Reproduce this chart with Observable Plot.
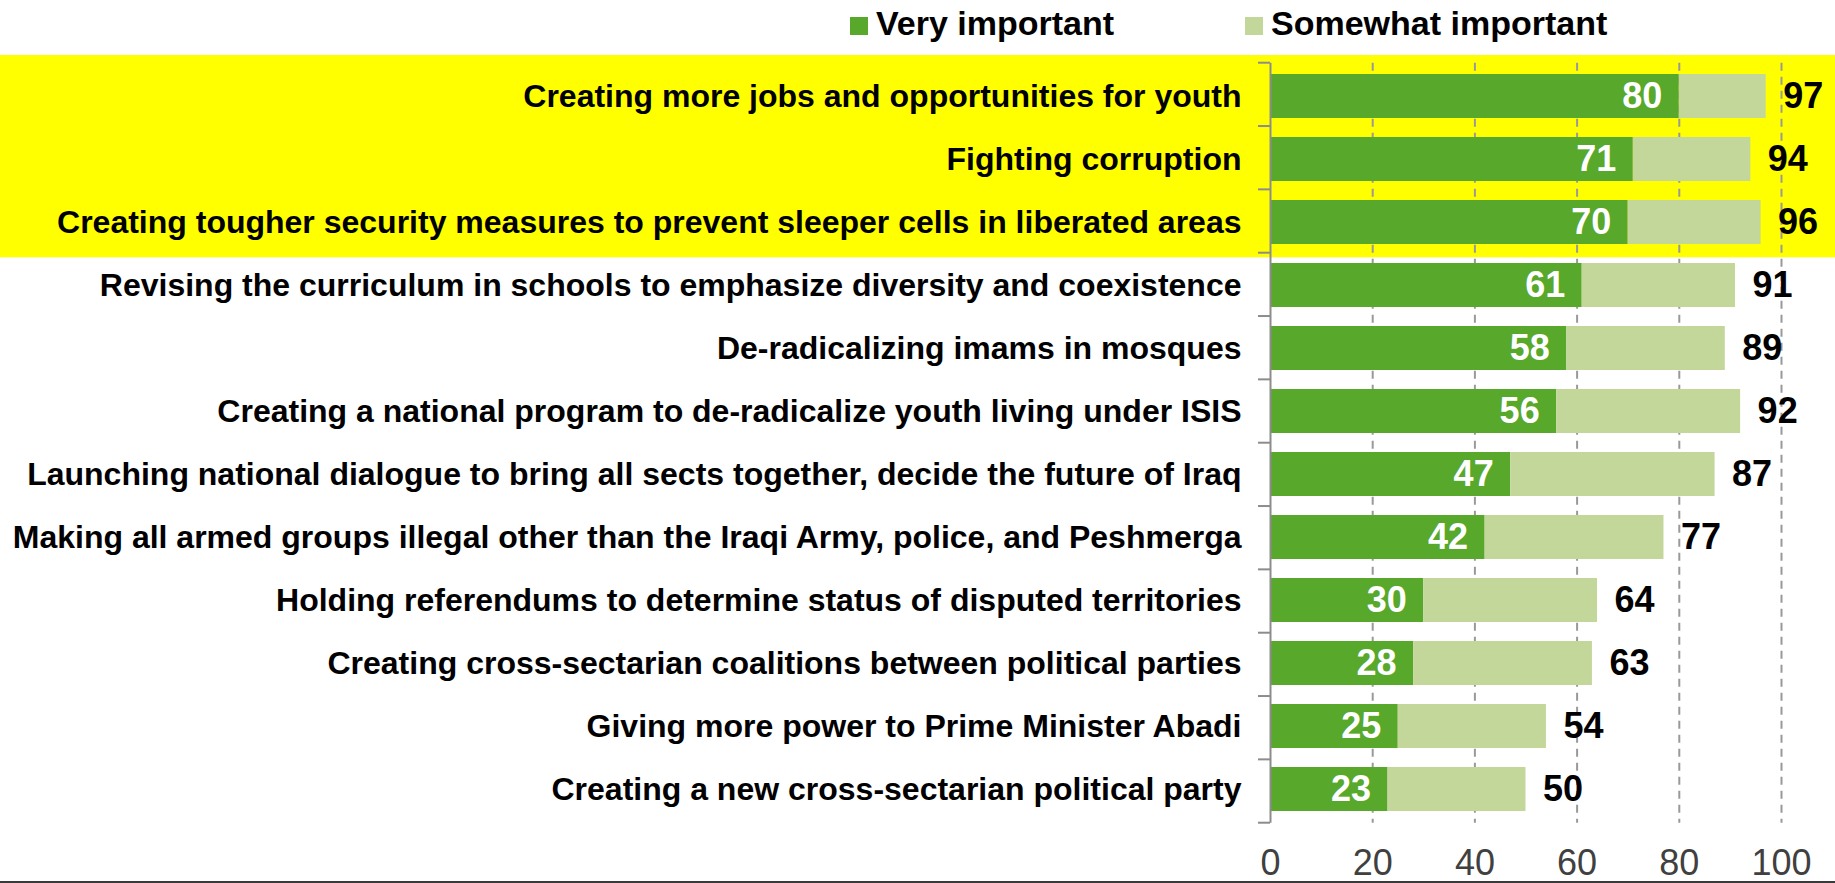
<!DOCTYPE html>
<html><head><meta charset="utf-8">
<script src="https://cdn.jsdelivr.net/npm/d3@7"></script>
<script src="https://cdn.jsdelivr.net/npm/@observablehq/plot@0.6"></script>
<style>
html,body{margin:0;padding:0;background:#fff;width:1835px;height:883px;overflow:hidden;font-family:"Liberation Sans",Arial,sans-serif;}
#legend{position:relative;height:55px;}
.sw{position:absolute;top:17px;width:18px;height:18px;}
.lt{position:absolute;top:6px;font-size:34px;font-weight:bold;line-height:34px;color:#000;white-space:nowrap;}
#chart{position:relative;height:828px;}
#chart svg{display:block;}
#border{position:absolute;left:0;top:881px;width:1835px;height:2px;background:#3a3a3a;}
</style></head>
<body>
<div id="legend"></div>
<div id="chart"></div>
<div id="border"></div>
<script>
const categories = [
  "Creating more jobs and opportunities for youth",
  "Fighting corruption",
  "Creating tougher security measures to prevent sleeper cells in liberated areas",
  "Revising the curriculum in schools to emphasize diversity and coexistence",
  "De-radicalizing imams in mosques",
  "Creating a national program to de-radicalize youth living under ISIS",
  "Launching national dialogue to bring all sects together, decide the future of Iraq",
  "Making all armed groups illegal other than the Iraqi Army, police, and Peshmerga",
  "Holding referendums to determine status of disputed territories",
  "Creating cross-sectarian coalitions between political parties",
  "Giving more power to Prime Minister Abadi",
  "Creating a new cross-sectarian political party"
];
const veryImportant = [80, 71, 70, 61, 58, 56, 47, 42, 30, 28, 25, 23];
const totalImportant = [97, 94, 96, 91, 89, 92, 87, 77, 64, 63, 54, 50];
const seriesNames = ["Very important", "Somewhat important"];
const seriesColors = ["#57a82b", "#c4d79b"];
const xTicks = [0, 20, 40, 60, 80, 100];
const highlighted = categories.slice(0, 3);

const rows = categories.map((c, i) => ({category: c, very: veryImportant[i], total: totalImportant[i]}));

// legend (HTML, above the SVG)
const legend = document.getElementById("legend");
const legendPos = [{sq: 850, tx: 876}, {sq: 1245, tx: 1271}];
seriesNames.forEach((name, i) => {
  const s = document.createElement("div");
  s.className = "sw"; s.style.left = legendPos[i].sq + "px"; s.style.background = seriesColors[i];
  legend.appendChild(s);
  const t = document.createElement("div");
  t.className = "lt"; t.style.left = legendPos[i].tx + "px"; t.textContent = name;
  legend.appendChild(t);
});

function highlightBand(index, scales, values, dims) {
  const n = categories.length;
  const top = dims.marginTop, bottom = dims.height - dims.marginBottom;
  const step = (bottom - top) / n;
  const i0 = categories.indexOf(highlighted[0]);
  const i1 = categories.indexOf(highlighted[highlighted.length - 1]);
  const y0 = top + i0 * step - 7.7, y1 = top + (i1 + 1) * step + 4.6;
  return d3.create("svg:rect").attr("x", 0).attr("y", y0).attr("width", dims.width)
    .attr("height", y1 - y0).attr("fill", "#ffff00").node();
}

function bandTicks(index, scales, values, dims) {
  const n = categories.length;
  const top = dims.marginTop, bottom = dims.height - dims.marginBottom;
  const step = (bottom - top) / n;
  const g = d3.create("svg:g").attr("stroke", "#8c8c8c").attr("stroke-width", 2);
  for (let i = 0; i <= n; i++) {
    const y = top + i * step;
    g.append("line").attr("x1", dims.marginLeft - 12).attr("x2", dims.marginLeft).attr("y1", y).attr("y2", y);
  }
  return g.node();
}

const plot = Plot.plot({
  width: 1835,
  height: 828,
  marginTop: 7.7,
  marginBottom: 60.3,
  marginLeft: 1270,
  marginRight: 54,
  style: {background: "transparent", fontFamily: "'Liberation Sans', Arial, sans-serif", overflow: "visible"},
  x: {domain: [0, 100], axis: null},
  y: {domain: categories, paddingInner: 0.3, paddingOuter: 0.15, axis: null},
  marks: [
    highlightBand,
    Plot.ruleX(xTicks.filter(d => d > 0), {stroke: "#999999", strokeWidth: 2, strokeDasharray: "8,6"}),
    Plot.barX(rows, {x1: d => 0, x2: "very", y: "category", fill: seriesColors[0]}),
    Plot.barX(rows, {x1: "very", x2: "total", y: "category", fill: seriesColors[1]}),
    Plot.ruleX([0], {stroke: "#8c8c8c", strokeWidth: 2}),
    bandTicks,
    Plot.text(rows, {y: "category", text: "category", frameAnchor: "left", textAnchor: "end", dx: -29,
      fontSize: 32, fontWeight: "bold", fill: "#000"}),
    Plot.text(rows, {x: "very", y: "category", text: d => String(d.very), textAnchor: "end", dx: -17,
      fontSize: 36, fontWeight: "bold", fill: "#ffffff"}),
    Plot.text(rows, {x: "total", y: "category", text: d => String(d.total), textAnchor: "start", dx: 17,
      fontSize: 36, fontWeight: "bold", fill: "#000"}),
    Plot.text(xTicks, {x: d => d, frameAnchor: "bottom", lineAnchor: "top", dy: 26, text: d => String(d),
      fontSize: 36, fill: "#404040"})
  ]
});
document.getElementById("chart").appendChild(plot);
</script>
</body></html>
